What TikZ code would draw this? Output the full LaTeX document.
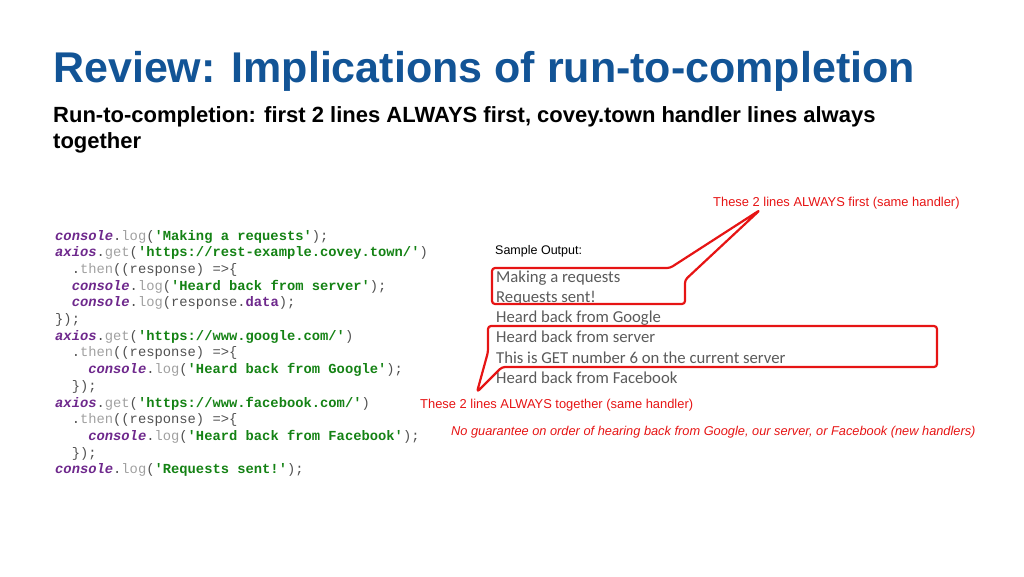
\documentclass[tikz,border=0pt]{standalone}
\usepackage{fontspec}
\setmainfont{Liberation Sans}
\newfontfamily\mono{Liberation Mono}
\newfontfamily\carl{Carlito}
\definecolor{ttl}{RGB}{18,84,150}
\definecolor{kw}{RGB}{110,40,140}
\definecolor{fn}{RGB}{160,160,160}
\definecolor{str}{RGB}{20,130,20}
\definecolor{pn}{RGB}{80,80,80}
\definecolor{rd}{RGB}{230,20,20}
\definecolor{outg}{RGB}{90,90,90}
\newcommand{\K}[1]{\textcolor{kw}{\textbf{\textit{#1}}}}
\newcommand{\F}[1]{\textcolor{fn}{#1}}
\newcommand{\Ss}[1]{\textcolor{str}{\textbf{#1}}}
\begin{document}
\begin{tikzpicture}[x=1pt,y=-1pt,
  code/.style={anchor=base west,inner sep=0,font=\mono\fontsize{13.8}{15}\selectfont,text=pn},
  outl/.style={anchor=base west,inner sep=0,font=\carl\fontsize{16.7}{18}\selectfont,text=outg},
  note/.style={anchor=base west,inner sep=0,font=\fontsize{12.9}{14}\selectfont,text=rd},
  callout/.style={draw=rd,line width=2.2pt,rounded corners=3pt,line join=round}]
\useasboundingbox (0,0) rectangle (1024,576);
\node[anchor=base west,inner sep=0,font=\bfseries\fontsize{43}{46}\selectfont,text=ttl] (title) at (53,82) {Review: Implications of run-to-completion};
\node[anchor=base west,inner sep=0,font=\bfseries\fontsize{22}{26}\selectfont] (sub1) at (53,122) {Run-to-completion: first 2 lines ALWAYS first, covey.town handler lines always};
\node[anchor=base west,inner sep=0,font=\bfseries\fontsize{22}{26}\selectfont] (sub2) at (53,148) {together};
\foreach \t [count=\i] in {
 {\K{console}.\F{log}(\Ss{'Making a requests'});},
 {\K{axios}.\F{get}(\Ss{'https://rest-example.covey.town/'})},
 {\ \ .\F{then}((response) =>\{},
 {\ \ \K{console}.\F{log}(\Ss{'Heard back from server'});},
 {\ \ \K{console}.\F{log}(response.\textcolor{kw}{\textbf{data}});},
 {\});},
 {\K{axios}.\F{get}(\Ss{'https://www.google.com/'})},
 {\ \ .\F{then}((response) =>\{},
 {\ \ \ \ \K{console}.\F{log}(\Ss{'Heard back from Google'});},
 {\ \ \});},
 {\K{axios}.\F{get}(\Ss{'https://www.facebook.com/'})},
 {\ \ .\F{then}((response) =>\{},
 {\ \ \ \ \K{console}.\F{log}(\Ss{'Heard back from Facebook'});},
 {\ \ \});},
 {\K{console}.\F{log}(\Ss{'Requests sent!'});}}
 \node[code] (c\i) at (55,{240+16.7*(\i-1)}) {\t};
\node[anchor=base west,inner sep=0,font=\fontsize{12.5}{14}\selectfont] (so) at (495,254) {Sample Output:};
\foreach \t [count=\i] in {Making a requests,Requests sent!,Heard back from Google,Heard back from server,This is GET number 6 on the current server,Heard back from Facebook}
 \node[outl] (o\i) at (496,{282+20.3*(\i-1)}) {\t};
\node[note] (n1) at (713,206) {These 2 lines ALWAYS first (same handler)};
\node[note] (n2) at (420,408) {These 2 lines ALWAYS together (same handler)};
\node[note,font=\itshape\fontsize{12.8}{14}\selectfont] (n3) at (451,435) {No guarantee on order of hearing back from Google, our server, or Facebook (new handlers)};
\coordinate (t1) at (760,210);
\coordinate (t2) at (477,392);
\draw[callout] (670,268) -- (t1) -- (685,280) -- (685,304) -- (492,304) -- (492,268) -- cycle;
\draw[callout] (488,326) -- (937,326) -- (937,367) -- (502,367) -- (t2) -- (488,352) -- cycle;
\end{tikzpicture}
\end{document}
